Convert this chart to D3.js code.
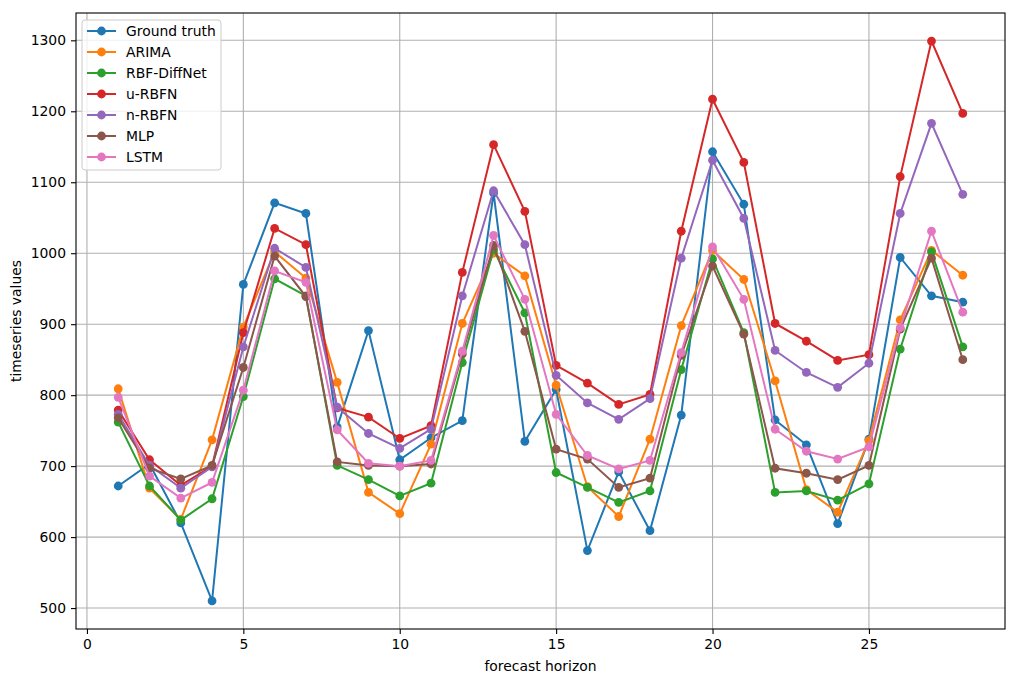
<!DOCTYPE html>
<html>
<head>
<meta charset="utf-8">
<script src="https://cdn.jsdelivr.net/npm/d3@7"></script>
<style>
  body { margin: 0; background: #fff; }
  text { font-family: "DejaVu Sans", sans-serif; }
</style>
</head>
<body>
<div id="chart"></div>
<script>
// forecast horizon steps 1..28
const horizon = d3.range(1, 29);

const groundTruth = [672, 703, 620, 510, 956, 1071, 1056, 755, 891, 709, 740, 764, 1085, 735, 808, 581, 692, 609, 772, 1143, 1069, 765, 730, 619, 738, 994, 940, 931];
const arima = [809, 669, 625, 737, 896, 1002, 965, 818, 663, 633, 731, 901, 1000, 968, 814, 671, 629, 738, 898, 1004, 963, 820, 667, 635, 736, 906, 1004, 969];
const rbfDiffNet = [762, 672, 624, 654, 798, 964, 940, 701, 681, 658, 676, 846, 1005, 916, 691, 670, 649, 665, 836, 992, 888, 663, 665, 652, 675, 865, 1002, 868];
const uRBFN = [779, 709, 673, 700, 888, 1035, 1012, 782, 769, 739, 757, 973, 1153, 1059, 842, 817, 787, 801, 1031, 1217, 1128, 901, 876, 849, 857, 1108, 1299, 1197];
const nRBFN = [773, 701, 669, 699, 868, 1007, 980, 783, 746, 725, 752, 940, 1088, 1012, 828, 789, 766, 795, 993, 1131, 1049, 863, 832, 811, 845, 1056, 1183, 1083];
const mlp = [768, 697, 682, 701, 839, 996, 939, 706, 701, 700, 703, 858, 1011, 890, 724, 710, 670, 683, 856, 982, 886, 697, 690, 681, 701, 893, 993, 850];
const lstm = [797, 686, 655, 677, 807, 975, 959, 751, 704, 700, 708, 862, 1025, 935, 773, 715, 696, 708, 860, 1009, 935, 752, 721, 710, 727, 895, 1031, 917];

const seriesNames = ["Ground truth", "ARIMA", "RBF-DiffNet", "u-RBFN", "n-RBFN", "MLP", "LSTM"];
const seriesValues = [groundTruth, arima, rbfDiffNet, uRBFN, nRBFN, mlp, lstm];
const colors = ["#1f77b4", "#ff7f0e", "#2ca02c", "#d62728", "#9467bd", "#8c564b", "#e377c2"];

const xTicks = [0, 5, 10, 15, 20, 25];
const yTicks = [500, 600, 700, 800, 900, 1000, 1100, 1200, 1300];

const W = 1018, H = 682;
const margin = {top: 13, right: 13, bottom: 53, left: 76};
const width = W - margin.left - margin.right;
const height = H - margin.top - margin.bottom;
const fs = 13.9;

const svg = d3.select("#chart").append("svg")
    .attr("width", W)
    .attr("height", H)
    .append("g")
    .attr("transform", "translate(" + margin.left + "," + margin.top + ")");

const x = d3.scaleLinear().domain([-0.35, 29.35]).range([0, width]);
const y = d3.scaleLinear().domain([470.5, 1338.5]).range([height, 0]);

// grid
svg.append("g")
    .selectAll("line")
    .data(xTicks)
    .join("line")
    .attr("x1", d => x(d)).attr("x2", d => x(d))
    .attr("y1", 0).attr("y2", height)
    .attr("stroke", "#b0b0b0").attr("stroke-width", 1.1);

svg.append("g")
    .selectAll("line")
    .data(yTicks)
    .join("line")
    .attr("x1", 0).attr("x2", width)
    .attr("y1", d => y(d)).attr("y2", d => y(d))
    .attr("stroke", "#b0b0b0").attr("stroke-width", 1.1);

// axes
const xAxis = svg.append("g")
    .attr("transform", `translate(0,${height})`)
    .call(d3.axisBottom(x).tickValues(xTicks).tickFormat(d3.format("d")).tickSize(5).tickPadding(5).tickSizeOuter(0));
const yAxis = svg.append("g")
    .call(d3.axisLeft(y).tickValues(yTicks).tickFormat(d3.format("d")).tickSize(5).tickPadding(5).tickSizeOuter(0));

[xAxis, yAxis].forEach(a => {
    a.attr("font-size", fs).attr("font-family", "DejaVu Sans");
    a.select(".domain").remove();
    a.selectAll("text").attr("fill", "#000");
    a.selectAll("line").attr("stroke", "#000").attr("stroke-width", 1.1);
});

// lines + markers
const line = d3.line()
    .x((d, i) => x(horizon[i]))
    .y(d => y(d));

seriesValues.forEach((vals, k) => {
    const g = svg.append("g");
    g.append("path")
        .datum(vals)
        .attr("fill", "none")
        .attr("stroke", colors[k])
        .attr("stroke-width", 2)
        .attr("d", line);
    g.selectAll("circle")
        .data(vals)
        .join("circle")
        .attr("cx", (d, i) => x(horizon[i]))
        .attr("cy", d => y(d))
        .attr("r", 4.4)
        .attr("fill", colors[k]);
});

// frame
svg.append("rect")
    .attr("width", width).attr("height", height)
    .attr("fill", "none").attr("stroke", "#000").attr("stroke-width", 1.1);

// axis labels
svg.append("text")
    .attr("x", width / 2).attr("y", height + 42)
    .attr("text-anchor", "middle").attr("font-size", fs)
    .text("forecast horizon");
svg.append("text")
    .attr("transform", `translate(${-55},${height / 2}) rotate(-90)`)
    .attr("text-anchor", "middle").attr("font-size", fs)
    .text("timeseries values");

// legend
const legend = svg.append("g").attr("transform", "translate(6,7)");
legend.append("rect")
    .attr("width", 139).attr("height", 150)
    .attr("rx", 3)
    .attr("fill", "#fff").attr("fill-opacity", 0.8)
    .attr("stroke", "#cccccc").attr("stroke-width", 1);

seriesNames.forEach((name, k) => {
    const ly = 11 + k * 21;
    const item = legend.append("g").attr("transform", `translate(0,${ly})`);
    item.append("line")
        .attr("x1", 5).attr("x2", 34)
        .attr("stroke", colors[k]).attr("stroke-width", 2);
    item.append("circle")
        .attr("cx", 19.5).attr("r", 4.4).attr("fill", colors[k]);
    item.append("text")
        .attr("x", 44).attr("dy", "0.35em")
        .attr("font-size", fs)
        .text(name);
});
</script>
</body>
</html>
